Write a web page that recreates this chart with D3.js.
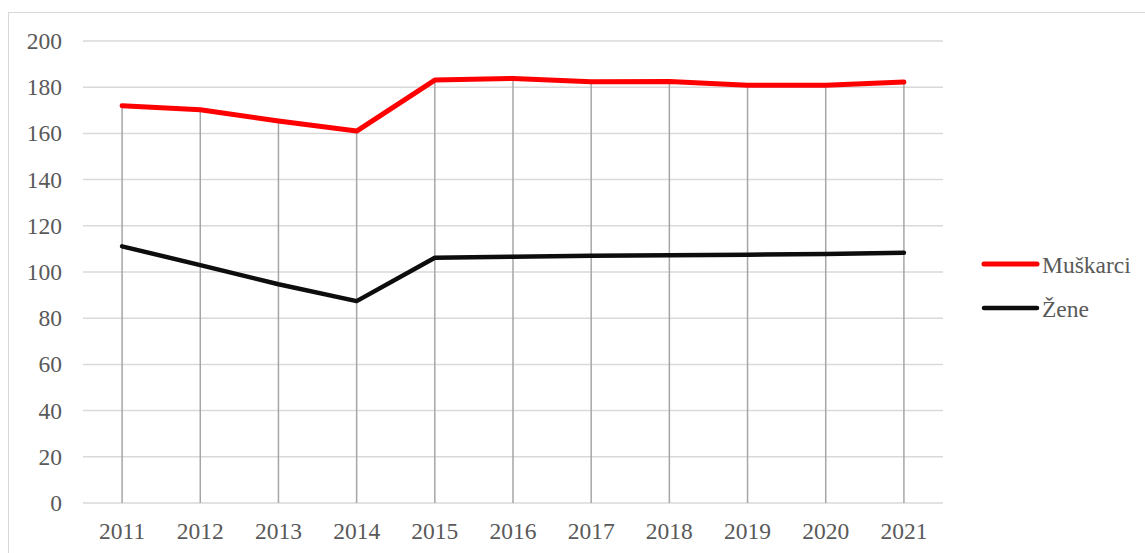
<!DOCTYPE html>
<html>
<head>
<meta charset="utf-8">
<script src="https://cdn.jsdelivr.net/npm/d3@7"></script>
<style>
  body { margin: 0; background: #fff; }
</style>
</head>
<body>
<svg id="chart" width="1145" height="553"></svg>
<script>
// data
const years = ["2011", "2012", "2013", "2014", "2015", "2016", "2017", "2018", "2019", "2020", "2021"];
const muskarci = [172, 170.2, 165.4, 161, 183.1, 183.8, 182.4, 182.5, 180.8, 180.8, 182.2];
const zene = [111.1, 103, 94.7, 87.4, 106.2, 106.6, 107, 107.2, 107.5, 107.8, 108.3];
const yTicks = [0, 20, 40, 60, 80, 100, 120, 140, 160, 180, 200];
const seriesNames = ["Muškarci", "Žene"];
const seriesColors = ["#ff0000", "#0d0d0d"];

const font = "Liberation Serif";
const fontSize = 23.5;
const svg = d3.select("#chart");

// outer chart border
svg.append("rect")
    .attr("x", 8.5).attr("y", 12.5)
    .attr("width", 1150).attr("height", 560)
    .attr("fill", "none")
    .attr("stroke", "#d9d9d9");

const x = d3.scaleBand().domain(years).range([83, 943]);
const y = d3.scaleLinear().domain([0, 200]).range([503, 41]);
const cx = d => x(d) + x.bandwidth() / 2;

// horizontal gridlines
svg.append("g").selectAll("line")
    .data(yTicks)
    .enter()
    .append("line")
    .attr("x1", 83).attr("x2", 943)
    .attr("y1", d => y(d)).attr("y2", d => y(d))
    .attr("stroke", "#d9d9d9")
    .attr("stroke-width", 1.5);

// y labels
svg.append("g").selectAll("text")
    .data(yTicks)
    .enter()
    .append("text")
    .attr("x", 62)
    .attr("y", d => y(d) + 8)
    .attr("text-anchor", "end")
    .attr("font-family", font)
    .attr("font-size", fontSize)
    .attr("fill", "#595959")
    .text(d => d);

// drop lines from top series to the axis
svg.append("g").selectAll("line")
    .data(years)
    .enter()
    .append("line")
    .attr("x1", d => cx(d)).attr("x2", d => cx(d))
    .attr("y1", (d, i) => y(Math.max(muskarci[i], zene[i])))
    .attr("y2", y(0))
    .attr("stroke", "#a6a6a6")
    .attr("stroke-width", 1.5);

// x labels
svg.append("g").selectAll("text")
    .data(years)
    .enter()
    .append("text")
    .attr("x", d => cx(d))
    .attr("y", 539)
    .attr("text-anchor", "middle")
    .attr("font-family", font)
    .attr("font-size", fontSize)
    .attr("fill", "#595959")
    .text(d => d);

const line = d3.line()
    .x((d, i) => cx(years[i]))
    .y(d => y(d));

[muskarci, zene].forEach((vals, k) => {
    svg.append("path")
        .datum(vals)
        .attr("d", line)
        .attr("fill", "none")
        .attr("stroke", seriesColors[k])
        .attr("stroke-width", k === 0 ? 5 : 4.5)
        .attr("stroke-linejoin", "round")
        .attr("stroke-linecap", "round");
});

// legend
const legend = svg.append("g").selectAll("g")
    .data(seriesNames)
    .enter()
    .append("g")
    .attr("transform", (d, i) => "translate(0," + (264 + i * 44) + ")");

legend.append("line")
    .attr("x1", 984).attr("x2", 1037)
    .attr("stroke", (d, i) => seriesColors[i])
    .attr("stroke-width", (d, i) => i === 0 ? 5 : 4.5)
    .attr("stroke-linecap", "round");

legend.append("text")
    .attr("x", 1042)
    .attr("y", 9)
    .attr("font-family", font)
    .attr("font-size", fontSize)
    .attr("fill", "#595959")
    .text(d => d);
</script>
</body>
</html>
